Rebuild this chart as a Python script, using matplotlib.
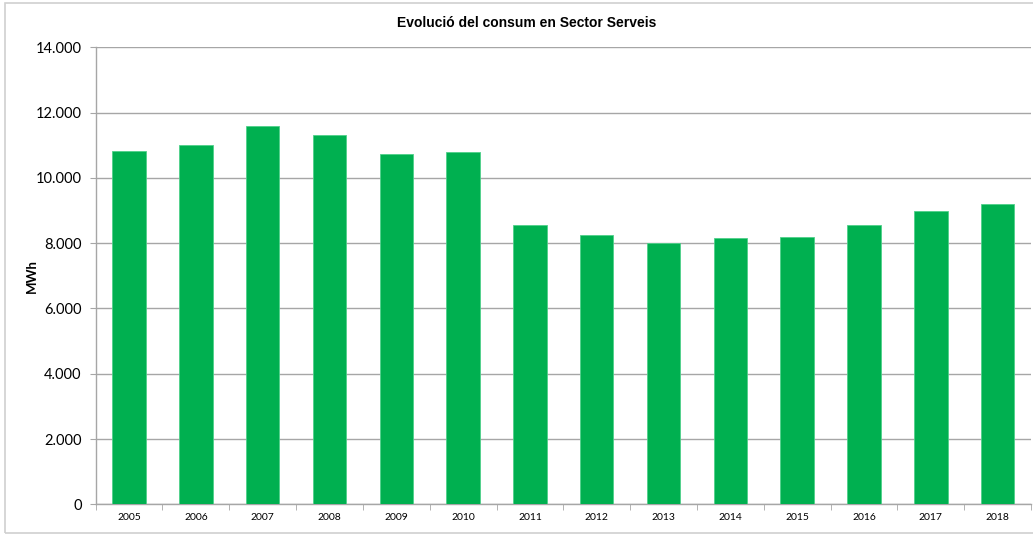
import matplotlib
matplotlib.use('Agg')
import matplotlib.pyplot as plt
from matplotlib.patches import Rectangle
from matplotlib.ticker import FuncFormatter, FixedLocator

#Dades
anys = ['2005', '2006', '2007', '2008', '2009', '2010', '2011',
        '2012', '2013', '2014', '2015', '2016', '2017', '2018']
consum = [10820, 11020, 11600, 11300, 10730, 10790, 8550,
          8250, 8000, 8150, 8190, 8550, 8980, 9200]

verd = '#00B050'
gris = '#A6A6A6'

fig = plt.figure(figsize=(10.33, 5.34), dpi=100)
ax = fig.add_axes([0.0926, 0.0556, 0.9055, 0.8558])

#Marc exterior del grafic
fig.patches.append(Rectangle((5/1033, 1/534), 1.2, 530/534, transform=fig.transFigure,
                             fill=False, edgecolor='#D0D0D0', linewidth=1.2))

x = list(range(len(anys)))
ax.bar(x, consum, width=0.5, color=verd, edgecolor='#4FD08A', linewidth=0.6, zorder=3)

ax.set_xlim(-0.5, len(anys) - 0.5)
ax.set_ylim(0, 14000)
ax.set_yticks(range(0, 14001, 2000))
ax.yaxis.set_major_formatter(FuncFormatter(lambda v, p: f'{int(v):,}'.replace(',', '.')))
ax.grid(axis='y', color=gris, linewidth=1.0, zorder=0)

ax.set_xticks(x)
ax.set_xticklabels(anys, fontsize=7.5, family='Lato')
ax.xaxis.set_minor_locator(FixedLocator([i - 0.5 for i in range(len(anys) + 1)]))
ax.tick_params(axis='x', which='major', length=0, pad=6)
ax.tick_params(axis='x', which='minor', length=4, color=gris, direction='out')
ax.tick_params(axis='y', length=4, color=gris, labelsize=10.5, pad=6)
for lab in ax.get_yticklabels():
    lab.set_family('Lato')

for s in ['top', 'right']:
    ax.spines[s].set_visible(False)
for s in ['left', 'bottom']:
    ax.spines[s].set_color(gris)
    ax.spines[s].set_linewidth(1.0)

#Etiqueta eix Y i titol
fig.text(32/1033, 1 - 276/534, 'MWh', rotation=90, ha='center', va='center',
         fontsize=9.5, fontweight='bold', family='Lato')
fig.text(527/1033, 1 - 23/534, 'Evolució del consum en Sector Serveis',
         ha='center', va='center', fontsize=10, fontweight='bold', family='Liberation Sans')

fig.savefig('out.png', dpi=100)
